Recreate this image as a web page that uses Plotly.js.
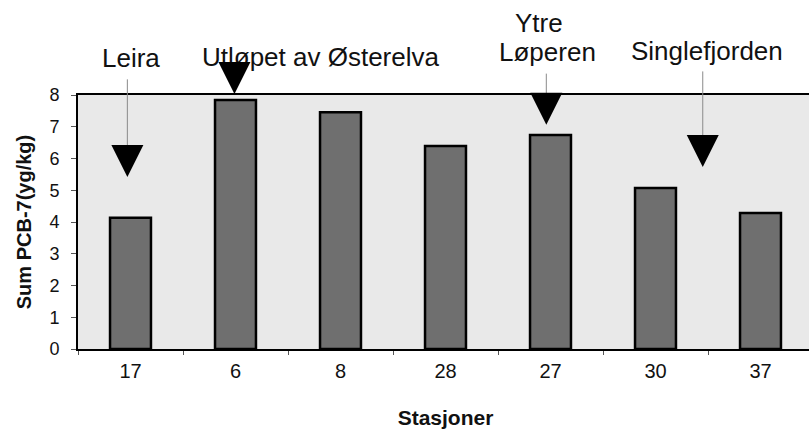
<!DOCTYPE html>
<html>
<head>
<meta charset="utf-8">
<script src="https://cdn.plot.ly/plotly-3.0.1.min.js"></script>
<style>
html,body{margin:0;padding:0;background:#fff;overflow:hidden;width:809px;height:429px;}
#chart{width:815px;height:429px;}
</style>
</head>
<body>
<div id="chart"></div>
<script>
// ---- data ----
const stations = ['17', '6', '8', '28', '27', '30', '37'];
const sumPCB7 = [4.13, 7.84, 7.46, 6.39, 6.74, 5.07, 4.28];

// place-name markers (x = station index, y = value units)
const placeNames = ['Leira', 'Utløpet av Østerelva', 'Ytre', 'Løperen', 'Singlefjorden'];
const placeNameX = [0.0, 1.81, 3.89, 3.97, 5.49];
const placeNameY = [9.15, 9.2, 10.28, 9.35, 9.4];

const arrowX = [-0.03, 0.99, 3.96, 5.45];
const arrowTipY = [5.42, 8.03, 7.06, 5.73];
const arrowLineTopY = [8.54, 8.03, 8.72, 8.79];

const YMAX = 8;
const FONT = 'Liberation Sans, Arial, sans-serif';
const toPaper = v => v / YMAX;

const annotations = [];
placeNames.forEach((t, i) => {
  annotations.push({
    x: placeNameX[i], y: toPaper(placeNameY[i]), xref: 'x', yref: 'paper',
    text: t, showarrow: false, xanchor: 'center', yanchor: 'middle',
    font: {family: FONT, size: 26, color: '#111'}
  });
});
arrowX.forEach((x, i) => {
  const headLen = 1.0; // head length in value units
  if (arrowLineTopY[i] > arrowTipY[i] + headLen) {
    annotations.push({
      x: x, y: toPaper(arrowTipY[i] + headLen), xref: 'x', yref: 'paper',
      ax: x, ay: toPaper(arrowLineTopY[i]), axref: 'x', ayref: 'paper',
      text: '', showarrow: true, arrowhead: 0, arrowwidth: 1, arrowcolor: '#8a8a8a'
    });
  }
  annotations.push({
    x: x, y: toPaper(arrowTipY[i]), xref: 'x', yref: 'paper',
    ax: x, ay: toPaper(arrowTipY[i] + headLen), axref: 'x', ayref: 'paper',
    text: '', showarrow: true, arrowhead: 2, arrowsize: 6.4, arrowwidth: 1, arrowcolor: '#000'
  });
});

const trace = {
  type: 'bar',
  x: stations,
  y: sumPCB7,
  marker: {color: '#6f6f6f', line: {color: '#000', width: 2.5}},
  width: 0.39,
  hoverinfo: 'skip'
};

const layout = {
  width: 815, height: 429,
  margin: {l: 78, r: 2, t: 95, b: 80},
  paper_bgcolor: '#ffffff',
  plot_bgcolor: '#e9e9e9',
  showlegend: false,
  font: {family: FONT, color: '#111'},
  xaxis: {
    type: 'category',
    showline: true, linecolor: '#000', linewidth: 2, mirror: true,
    ticks: 'outside', ticklen: 4, tickcolor: '#555', tickwidth: 1,
    tickson: 'boundaries',
    showgrid: false, zeroline: false,
    tickfont: {family: FONT, size: 20, color: '#111'},
    ticklabelstandoff: 3,
    title: {text: 'Stasjoner', font: {family: FONT, size: 21, color: '#111', weight: 'bold'}, standoff: 31}
  },
  yaxis: {
    range: [0, YMAX], dtick: 1,
    showline: true, linecolor: '#000', linewidth: 2, mirror: true,
    ticks: 'outside', ticklen: 5, tickcolor: '#555', tickwidth: 1,
    showgrid: false, zeroline: false,
    tickfont: {family: FONT, size: 18, color: '#111'},
    ticklabelstandoff: 8,
    title: {text: 'Sum PCB-7(yg/kg)', font: {family: FONT, size: 20, color: '#111', weight: 'bold'}, standoff: 12}
  },
  annotations: annotations
};

Plotly.newPlot('chart', [trace], layout, {staticPlot: true});
</script>
</body>
</html>
